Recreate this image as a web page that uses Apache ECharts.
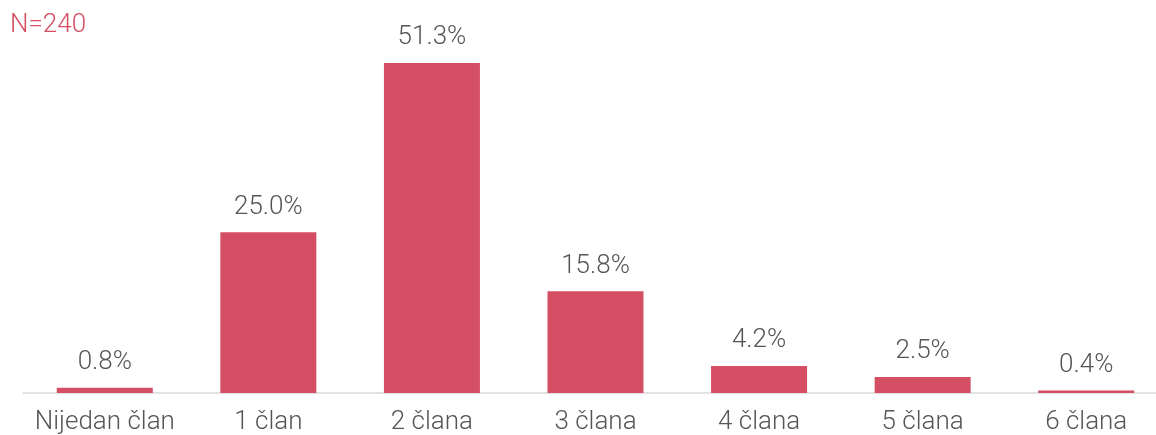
<!DOCTYPE html>
<html>
<head>
<meta charset="utf-8">
<script src="https://cdn.jsdelivr.net/npm/echarts@6/dist/echarts.min.js"></script>
<style>
html, body { margin: 0; padding: 0; background: #fff; }
#chart { width: 1156px; height: 435px; }
</style>
</head>
<body>
<div id="chart"></div>
<script>
var categories = ['Nijedan član', '1 član', '2 člana', '3 člana', '4 člana', '5 člana', '6 člana'];
var values = [0.8, 25.0, 51.3, 15.8, 4.2, 2.5, 0.4];
var sampleNote = 'N=240';

var fontName = 'Roboto';

var chart = echarts.init(document.getElementById('chart'));

var option = {
	animation: false,
	title: {
		text: sampleNote,
		left: 5,
		top: 7,
		textStyle: { color: '#d44f63', fontSize: 26, fontWeight: 300, fontFamily: fontName }
	},
	grid: { left: 23, width: 1145, top: 7, bottom: 42, outerBoundsMode: 'none' },
	xAxis: {
		type: 'category',
		data: categories,
		axisTick: { show: false },
		axisLine: { lineStyle: { color: '#d9d9d9', width: 1.5 } },
		axisLabel: { color: '#555555', fontSize: 26, fontWeight: 300, fontFamily: fontName, margin: 16, interval: 0 }
	},
	yAxis: {
		type: 'value',
		min: 0,
		max: 60,
		show: false,
		splitLine: { show: false }
	},
	series: [{
		type: 'bar',
		data: values,
		barWidth: 96,
		itemStyle: { color: '#d44f63' },
		label: {
			show: true,
			position: 'top',
			distance: 12,
			color: '#555555',
			fontSize: 26,
			fontWeight: 300,
			fontFamily: fontName,
			formatter: function (p) { return p.value.toFixed(1) + '%'; }
		}
	}]
};

chart.setOption(option);
</script>
</body>
</html>
